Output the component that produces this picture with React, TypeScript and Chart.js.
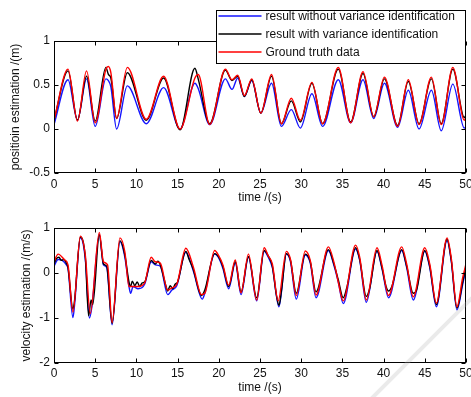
import React, { useEffect, useRef } from 'react';
import { Chart, registerables } from 'chart.js';

Chart.register(...registerables);

const FONT = "'Liberation Sans', Arial, Helvetica, sans-serif";

// ---------- shared ticks / labels ----------
const xTickValues = [0, 5, 10, 15, 20, 25, 30, 35, 40, 45, 50];
const posTickValues = [-0.5, 0, 0.5, 1];
const velTickValues = [-2, -1, 0, 1];
const seriesLabels = [
  'result without variance identification',
  'result with variance identification',
  'Ground truth data',
];
const seriesColors = ['#1414ff', '#000000', '#ff0000'];

// ---------- position (top) ----------
const posTime = [0, 1.7, 2.85, 3.95, 5.0, 6.3, 6.6, 6.9, 7.6, 8.9, 11.2, 13.3, 15.3, 17.1, 17.5, 18.9, 20.8, 21.6, 22.3, 23.1, 24.0, 25.1, 26.4, 27.6, 28.8, 29.9, 31.3, 32.6, 34.5, 36.0, 37.5, 38.8, 40.1, 41.7, 43.0, 44.3, 45.8, 47.0, 48.4, 49.8, 50];
const posTruth = [0.10, 0.68, 0.09, 0.66, 0.07, 0.68, 0.71, 0.64, 0.12, 0.70, 0.11, 0.60, 0.00, 0.58, 0.62, 0.05, 0.68, 0.56, 0.61, 0.38, 0.57, 0.18, 0.62, 0.06, 0.35, 0.10, 0.53, 0.06, 0.70, 0.07, 0.65, 0.14, 0.59, 0.03, 0.56, 0.05, 0.59, 0.05, 0.70, 0.10, 0.14];
const posWith = [0.10, 0.66, 0.10, 0.60, 0.09, 0.70, 0.62, 0.58, 0.12, 0.64, 0.10, 0.58, -0.01, 0.69, 0.57, 0.06, 0.67, 0.55, 0.60, 0.37, 0.56, 0.18, 0.60, 0.06, 0.32, 0.08, 0.52, 0.06, 0.68, 0.08, 0.63, 0.14, 0.57, 0.04, 0.54, 0.06, 0.57, 0.06, 0.68, 0.13, 0.16];
const posWithout = [0.05, 0.56, 0.10, 0.57, 0.03, 0.57, 0.55, 0.48, 0.00, 0.49, 0.06, 0.47, 0.00, 0.52, 0.46, 0.05, 0.57, 0.45, 0.58, 0.37, 0.55, 0.18, 0.52, 0.03, 0.22, 0.01, 0.40, 0.03, 0.56, 0.07, 0.56, 0.12, 0.52, 0.02, 0.44, 0.00, 0.44, -0.02, 0.51, 0.01, 0.03];

// ---------- velocity (bottom) ----------
const velTruthT = [0, 0.5, 1.3, 1.7, 2.3, 3.2, 3.8, 4.4, 5.5, 6.0, 6.5, 7.05, 8.0, 8.6, 9.1, 9.6, 10.2, 11.0, 11.8, 12.3, 12.9, 13.8, 14.3, 14.9, 16.0, 16.9, 17.9, 18.3, 19.5, 20.0, 20.5, 21.2, 22.0, 22.7, 23.6, 24.6, 25.5, 26.0, 26.5, 27.2, 28.2, 28.7, 29.4, 30.5, 31.1, 31.8, 33.3, 34.0, 34.5, 35.1, 36.6, 37.1, 37.9, 39.2, 39.8, 40.6, 42.2, 42.8, 43.6, 45.0, 45.6, 46.4, 47.7, 48.2, 48.9, 49.6, 50];
const velTruthV = [0.25, 0.42, 0.29, 0.18, -0.87, 0.82, 0.4, -0.9, 0.9, 0.25, 0.18, -1.1, 0.78, 0.47, -0.3, -0.3, -0.3, -0.22, 0.35, 0.25, 0.22, -0.38, -0.33, -0.25, 0.55, 0.14, -0.48, -0.45, 0.5, 0.38, 0.18, -0.27, 0.29, -0.44, 0.42, -0.6, 0.56, 0.38, 0.2, -0.62, 0.48, 0.3, -0.5, 0.49, 0.28, -0.49, 0.58, 0.22, -0.2, -0.62, 0.62, 0.35, -0.6, 0.56, 0.18, -0.5, 0.58, 0.2, -0.53, 0.56, 0.2, -0.67, 0.78, 0.35, -0.75, -0.1, 0.2];

const velWithT = [0, 0.3, 0.6, 0.9, 1.2, 1.5, 1.7, 2.3, 2.5, 3.2, 3.8, 4.2, 4.5, 4.7, 5.5, 6.0, 6.4, 7.05, 8.0, 8.6, 9.1, 9.3, 9.5, 9.8, 10.1, 10.4, 10.7, 11.0, 11.8, 12.3, 12.6, 12.9, 13.6, 13.8, 14.1, 14.4, 14.7, 15.0, 16.0, 16.4, 16.9, 17.6, 17.9, 18.3, 19.5, 20.0, 20.5, 21.2, 22.0, 22.7, 23.6, 24.6, 25.5, 26.0, 26.5, 27.0, 27.3, 27.6, 28.2, 28.7, 29.4, 30.5, 31.1, 31.8, 33.3, 34.0, 34.5, 35.1, 35.5, 36.6, 37.1, 37.9, 38.3, 39.2, 39.8, 40.3, 40.6, 41.0, 42.2, 42.8, 43.6, 44.0, 45.0, 45.6, 46.4, 47.7, 48.2, 48.9, 49.6, 50];
const velWithV = [0.2, 0.32, 0.35, 0.28, 0.3, 0.22, 0.12, -0.8, -0.6, 0.8, 0.35, -0.95, -0.6, -0.7, 0.85, 0.2, 0.15, -1.12, 0.72, 0.4, -0.2, -0.3, -0.18, -0.28, -0.2, -0.3, -0.22, -0.2, 0.28, 0.2, 0.26, 0.18, -0.3, -0.4, -0.28, -0.35, -0.25, -0.2, 0.48, 0.3, 0.08, -0.4, -0.5, -0.38, 0.43, 0.35, 0.14, -0.3, 0.25, -0.42, 0.36, -0.55, 0.5, 0.38, 0.15, -0.5, -0.72, -0.4, 0.43, 0.28, -0.45, 0.42, 0.25, -0.42, 0.52, 0.18, -0.15, -0.55, -0.35, 0.56, 0.3, -0.52, -0.35, 0.5, 0.12, -0.3, -0.4, -0.3, 0.52, 0.15, -0.45, -0.38, 0.5, 0.15, -0.7, 0.75, 0.3, -0.78, -0.2, 0.15];

const velWithoutT = [0, 0.5, 1.0, 1.5, 1.7, 2.3, 2.5, 3.2, 3.8, 4.3, 4.6, 5.5, 6.0, 6.4, 7.05, 8.0, 8.6, 9.1, 9.3, 9.6, 10.2, 11.0, 11.8, 12.3, 12.9, 13.8, 14.3, 14.9, 16.0, 16.9, 18.0, 18.3, 19.5, 20.0, 20.5, 21.2, 22.0, 22.7, 23.6, 24.6, 25.5, 26.0, 26.5, 27.3, 28.2, 28.7, 29.4, 30.5, 31.1, 31.8, 33.3, 34.0, 34.5, 35.1, 36.6, 37.1, 37.9, 39.2, 39.8, 40.6, 42.2, 42.8, 43.6, 45.0, 45.6, 46.4, 47.7, 48.2, 48.9, 49.6, 50];
const velWithoutV = [0.15, 0.3, 0.28, 0.18, 0.1, -0.99, -0.7, 0.78, 0.3, -1.0, -0.75, 0.85, 0.18, 0.12, -1.15, 0.7, 0.35, -0.3, -0.45, -0.3, -0.35, -0.25, 0.25, 0.18, 0.15, -0.48, -0.38, -0.28, 0.46, 0.05, -0.58, -0.45, 0.42, 0.33, 0.1, -0.35, 0.22, -0.48, 0.35, -0.62, 0.48, 0.35, 0.12, -0.75, 0.42, 0.25, -0.58, 0.4, 0.22, -0.55, 0.5, 0.15, -0.2, -0.68, 0.53, 0.28, -0.65, 0.48, 0.1, -0.55, 0.5, 0.12, -0.6, 0.48, 0.12, -0.75, 0.72, 0.28, -0.82, -0.25, 0.1];

const toPoints = (t: number[], v: number[]) =>
  t.slice(0, Math.min(t.length, v.length)).map((x, i) => ({ x, y: v[i] }));

const makeDataset = (idx: number, data: { x: number; y: number }[]) => ({
  label: seriesLabels[idx],
  data,
  borderColor: seriesColors[idx],
  backgroundColor: seriesColors[idx],
  borderWidth: 1.4,
  pointRadius: 0,
  fill: false,
  cubicInterpolationMode: 'monotone' as const,
  order: 2 - idx,
});

// MATLAB-like box with inward ticks on all sides
const boxPlugin = {
  id: 'matlabBox',
  afterDatasetsDraw(chart: any) {
    const { ctx, chartArea: a, scales } = chart;
    ctx.save();
    ctx.strokeStyle = '#000';
    ctx.lineWidth = 1;
    const L = Math.round(a.left) + 0.5;
    const R = Math.round(a.right) - 0.5;
    const T = Math.round(a.top) + 0.5;
    const B = Math.round(a.bottom) - 0.5;
    ctx.strokeRect(L, T, R - L, B - T);
    const tl = 4;
    ctx.beginPath();
    scales.x.ticks.forEach((tk: any) => {
      const p = Math.round(scales.x.getPixelForValue(tk.value)) + 0.5;
      ctx.moveTo(p, B);
      ctx.lineTo(p, B - tl);
      ctx.moveTo(p, T);
      ctx.lineTo(p, T + tl);
    });
    scales.y.ticks.forEach((tk: any) => {
      const p = Math.round(scales.y.getPixelForValue(tk.value)) + 0.5;
      ctx.moveTo(L, p);
      ctx.lineTo(L + tl, p);
      ctx.moveTo(R, p);
      ctx.lineTo(R - tl, p);
    });
    ctx.stroke();
    ctx.restore();
  },
};

const legendPlugin = {
  id: 'boxLegend',
  afterDraw(chart: any) {
    const { ctx, chartArea: a } = chart;
    const right = Math.round(a.right) - 0.5;
    const left = right - 249;
    const top = 10.5;
    const bottom = top + 53;
    const rowH = 18;
    ctx.save();
    ctx.fillStyle = '#fff';
    ctx.fillRect(left, top, right - left, bottom - top);
    ctx.strokeStyle = '#000';
    ctx.lineWidth = 1;
    ctx.strokeRect(left, top, right - left, bottom - top);
    ctx.font = `12px ${FONT}`;
    ctx.textBaseline = 'middle';
    ctx.textAlign = 'left';
    seriesLabels.forEach((lab, i) => {
      const y = top + 5.5 + i * rowH;
      ctx.strokeStyle = seriesColors[i];
      ctx.lineWidth = 1.3;
      ctx.beginPath();
      ctx.moveTo(left + 2, y);
      ctx.lineTo(left + 45, y);
      ctx.stroke();
      ctx.fillStyle = '#111';
      ctx.fillText(lab, left + 49, y + 0.5);
    });
    ctx.restore();
  },
};

const watermarkPlugin = {
  id: 'watermark',
  afterDraw(chart: any) {
    const { ctx, width, height } = chart;
    ctx.save();
    ctx.strokeStyle = 'rgba(180,180,180,0.28)';
    ctx.lineWidth = 4;
    ctx.beginPath();
    ctx.moveTo(width - 100, height + 2);
    ctx.lineTo(width + 2, height - 100);
    ctx.stroke();
    ctx.restore();
  },
};

function makeConfig(opts: {
  datasets: any[];
  yMin: number;
  yMax: number;
  yTicks: number[];
  yTitle: string;
  yTitlePad: number;
  topPad: number;
  xAxisHeight: number;
  xTickPad: number;
  xTitlePad: number;
  plugins: any[];
}): any {
  return {
    type: 'line',
    data: { datasets: opts.datasets },
    options: {
      animation: false,
      responsive: false,
      maintainAspectRatio: false,
      events: [],
      layout: { padding: { top: opts.topPad, right: 5, left: 0, bottom: 0 } },
      plugins: { legend: { display: false }, tooltip: { enabled: false } },
      scales: {
        x: {
          type: 'linear',
          min: 0,
          max: 50,
          afterBuildTicks: (s: any) => {
            s.ticks = xTickValues.map((v) => ({ value: v }));
          },
          afterFit: (s: any) => {
            s.height = opts.xAxisHeight;
            s.paddingLeft = 0;
            s.paddingRight = 0;
          },
          grid: { display: false, drawTicks: false },
          border: { display: false },
          ticks: {
            padding: opts.xTickPad,
            color: '#111',
            font: { family: FONT, size: 12 },
            maxRotation: 0,
            autoSkip: false,
            callback: (v: any) => String(v),
          },
          title: {
            display: true,
            text: 'time /(s)',
            color: '#111',
            font: { family: FONT, size: 12 },
            padding: { top: 0, bottom: opts.xTitlePad },
          },
        },
        y: {
          type: 'linear',
          min: opts.yMin,
          max: opts.yMax,
          afterBuildTicks: (s: any) => {
            s.ticks = opts.yTicks.map((v) => ({ value: v }));
          },
          afterFit: (s: any) => {
            s.width = 54;
            s.paddingTop = 0;
            s.paddingBottom = 0;
          },
          grid: { display: false, drawTicks: false },
          border: { display: false },
          ticks: {
            padding: 4,
            color: '#111',
            font: { family: FONT, size: 12 },
            autoSkip: false,
            callback: (v: any) => String(v),
          },
          title: {
            display: true,
            text: opts.yTitle,
            color: '#111',
            font: { family: FONT, size: 12 },
            padding: { top: opts.yTitlePad, bottom: 0 },
          },
        },
      },
    },
    plugins: opts.plugins,
  };
}

export default function App() {
  const topRef = useRef<HTMLCanvasElement | null>(null);
  const botRef = useRef<HTMLCanvasElement | null>(null);

  useEffect(() => {
    if (!topRef.current || !botRef.current) return;
    const top = new Chart(
      topRef.current,
      makeConfig({
        datasets: [
          makeDataset(0, toPoints(posTime, posWithout)),
          makeDataset(1, toPoints(posTime, posWith)),
          makeDataset(2, toPoints(posTime, posTruth)),
        ],
        yMin: -0.5,
        yMax: 1,
        yTicks: posTickValues,
        yTitle: 'positioin estimation /(m)',
        yTitlePad: 8,
        topPad: 41,
        xAxisHeight: 32,
        xTickPad: 4,
        xTitlePad: 0,
        plugins: [boxPlugin, legendPlugin],
      })
    );
    const bot = new Chart(
      botRef.current,
      makeConfig({
        datasets: [
          makeDataset(0, toPoints(velWithoutT, velWithoutV)),
          makeDataset(1, toPoints(velWithT, velWithV)),
          makeDataset(2, toPoints(velTruthT, velTruthV)),
        ],
        yMin: -2,
        yMax: 1,
        yTicks: velTickValues,
        yTitle: 'velocity estimation /(m/s)',
        yTitlePad: 19.5,
        topPad: 23,
        xAxisHeight: 34,
        xTickPad: 3,
        xTitlePad: 2,
        plugins: [boxPlugin, watermarkPlugin],
      })
    );
    return () => {
      top.destroy();
      bot.destroy();
    };
  }, []);

  return (
    <div
      style={{
        position: 'absolute',
        left: 0,
        top: 0,
        width: 471,
        height: 397,
        background: '#fff',
        overflow: 'hidden',
      }}
    >
      <canvas
        ref={topRef}
        width={471}
        height={205}
        style={{ position: 'absolute', left: 0, top: 0, width: 471, height: 205 }}
      />
      <canvas
        ref={botRef}
        width={471}
        height={192}
        style={{ position: 'absolute', left: 0, top: 205, width: 471, height: 192 }}
      />
    </div>
  );
}
